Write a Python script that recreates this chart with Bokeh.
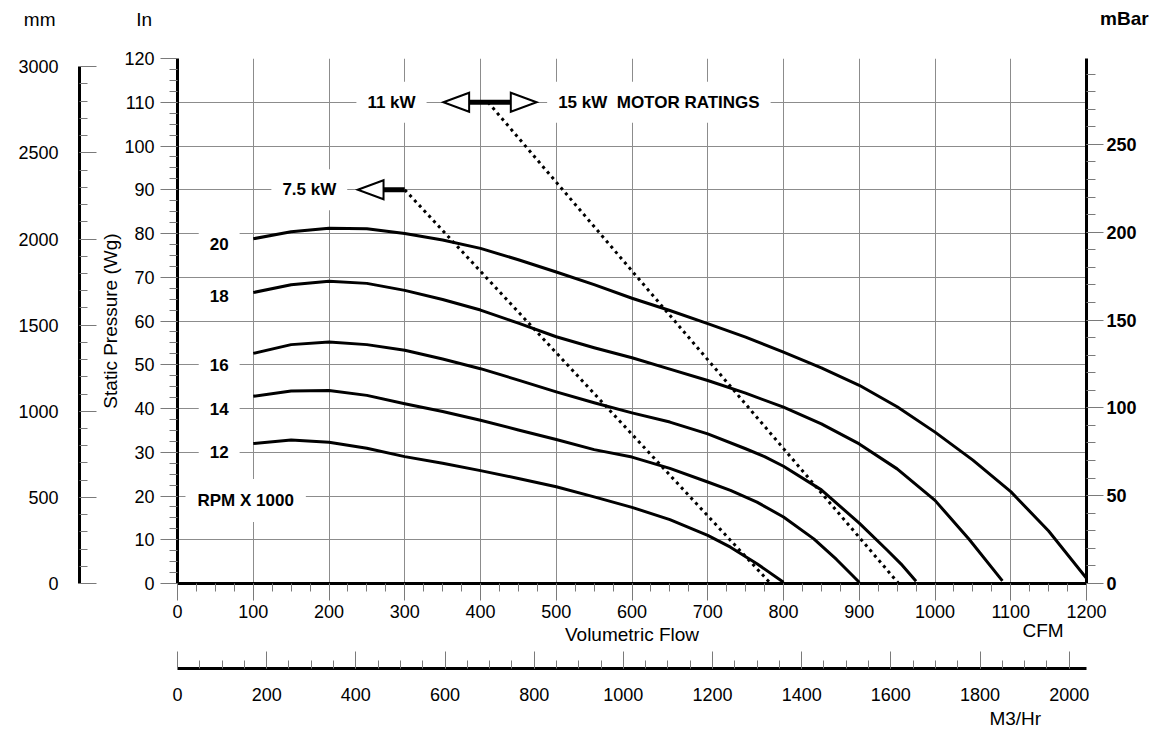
from bokeh.plotting import figure
from bokeh.models import Range1d, LinearAxis, SingleIntervalTicker, FixedTicker, Label
from bokeh.embed import file_html
from bokeh.resources import INLINE

FONT = "Liberation Sans"

# ---------------- data (CFM vs static pressure, in. w.g.) ----------------
rpm_labels = ["20", "18", "16", "14", "12"]

cfm_20 = [100, 150, 200, 250, 300, 350, 400, 450, 500, 550, 600, 650, 700, 750, 800, 850, 900, 950, 1000, 1050, 1100, 1150, 1200]
wg_20 = [78.8, 80.4, 81.2, 81.1, 80.0, 78.5, 76.6, 74.0, 71.2, 68.3, 65.2, 62.4, 59.4, 56.3, 52.9, 49.3, 45.3, 40.4, 34.6, 28.2, 21.0, 12.0, 1.2]

cfm_18 = [100, 150, 200, 250, 300, 350, 400, 450, 500, 550, 600, 650, 700, 750, 800, 850, 900, 950, 1000, 1045, 1089]
wg_18 = [66.5, 68.3, 69.1, 68.6, 67.0, 64.9, 62.5, 59.5, 56.4, 53.9, 51.6, 49.0, 46.4, 43.5, 40.3, 36.5, 31.9, 26.2, 19.0, 10.1, 0.6]

cfm_16 = [100, 150, 200, 250, 300, 350, 400, 450, 500, 550, 600, 650, 700, 750, 775, 800, 850, 900, 937, 955, 975]
wg_16 = [52.6, 54.6, 55.2, 54.6, 53.3, 51.3, 49.1, 46.5, 43.8, 41.3, 39.0, 36.9, 34.2, 30.8, 29.0, 26.8, 21.4, 13.8, 7.6, 4.5, 0.5]

cfm_14 = [100, 150, 200, 250, 300, 350, 400, 450, 500, 550, 600, 650, 700, 730, 765, 800, 840, 870, 900]
wg_14 = [42.8, 44.0, 44.1, 43.0, 41.1, 39.3, 37.3, 35.1, 32.9, 30.6, 28.9, 26.3, 23.2, 21.3, 18.6, 15.2, 10.2, 5.5, 0.3]

cfm_12 = [100, 150, 200, 250, 300, 350, 400, 450, 500, 550, 600, 650, 700, 730, 765, 800]
wg_12 = [32.0, 32.8, 32.3, 30.9, 29.0, 27.5, 25.8, 24.0, 22.1, 19.8, 17.4, 14.6, 11.0, 8.3, 4.5, 0.3]

curves_cfm = [cfm_20, cfm_18, cfm_16, cfm_14, cfm_12]
curves_wg = [wg_20, wg_18, wg_16, wg_14, wg_12]
rpm_label_wg = [77.7, 65.7, 50, 40, 30]
rpm_label_cfm = 55

# motor rating limit lines
rating_75_cfm = [300, 783]
rating_75_wg = [90, 0]
rating_11_15_cfm = [410, 952]
rating_11_15_wg = [110, 0]

# motor rating arrows: tip, base, level
arrow_tip = [238, 351, 474]
arrow_base = [272, 385, 440]
arrow_level = [90, 110, 110]
arrow_half = 2.17
bar_x0 = [272, 385]
bar_x1 = [300, 440]
bar_y = [90, 110]

# unit conversions for the secondary scales
IN_MAX = 120
CFM_MAX = 1200
MM_PER_IN = 25.4
MBAR_PER_IN = 1 / 0.401463
M3H_PER_CFM = 1.699011

GRID = "#8c8c8c"
TICK = "#7a7a7a"

p = figure(frame_width=909, frame_height=525,
           x_range=Range1d(0, CFM_MAX), y_range=Range1d(0, IN_MAX),
           output_backend="svg", toolbar_location=None,
           min_border_left=177, min_border_right=71, min_border_top=58, min_border_bottom=146)
p.outline_line_color = None
p.background_fill_color = "white"
p.border_fill_color = "white"

p.extra_y_ranges = {"mm": Range1d(0, IN_MAX * MM_PER_IN), "mbar": Range1d(0, IN_MAX * MBAR_PER_IN)}
p.extra_x_ranges = {"m3": Range1d(0, CFM_MAX * M3H_PER_CFM)}


def style_axis(ax, size="18px", bold=False):
    ax.axis_line_color = "black"
    ax.axis_line_width = 3
    ax.major_tick_line_color = TICK
    ax.minor_tick_line_color = TICK
    ax.major_tick_line_width = 1
    ax.minor_tick_line_width = 1
    ax.major_label_text_font = FONT
    ax.major_label_text_font_size = size
    ax.major_label_text_color = "black"
    ax.major_label_text_font_style = "bold" if bold else "normal"
    ax.axis_label_text_font = FONT
    ax.axis_label_text_font_style = "normal"
    ax.axis_label_text_font_size = "19px"
    ax.axis_label_text_color = "black"


# primary CFM axis
xa = p.xaxis[0]
xa.ticker = SingleIntervalTicker(interval=100, num_minor_ticks=4)
style_axis(xa)
xa.major_tick_out = 17
xa.major_tick_in = 0
xa.minor_tick_out = 8
xa.minor_tick_in = 0
xa.major_label_standoff = 4
xa.axis_label = "Volumetric Flow"
xa.axis_label_standoff = 3

# primary In axis
ya = p.yaxis[0]
ya.ticker = SingleIntervalTicker(interval=10, num_minor_ticks=4)
style_axis(ya)
ya.major_tick_out = 17
ya.major_tick_in = 0
ya.minor_tick_out = 8
ya.minor_tick_in = 0
ya.major_label_standoff = 6
ya.axis_label = "Static Pressure (Wg)"
ya.axis_label_standoff = 0

p.xgrid.grid_line_color = GRID
p.ygrid.grid_line_color = GRID
p.xgrid.grid_line_width = 1
p.ygrid.grid_line_width = 1

# blank spacer between the inch scale and the mm scale
spacer = LinearAxis(ticker=FixedTicker(ticks=[IN_MAX]), axis_line_color=None,
                    major_tick_line_color="white", major_tick_out=18, major_tick_in=0,
                    minor_tick_out=0, minor_tick_in=0, major_label_standoff=0,
                    major_label_text_font_size="0px", major_label_overrides={IN_MAX: ""})
p.add_layout(spacer, "left")

mm_axis = LinearAxis(y_range_name="mm", ticker=SingleIntervalTicker(interval=500, num_minor_ticks=5),
                     bounds=(0, 3000))
style_axis(mm_axis)
mm_axis.major_tick_out = 0
mm_axis.major_tick_in = 17
mm_axis.minor_tick_out = 0
mm_axis.minor_tick_in = 8
mm_axis.major_label_standoff = 21
p.add_layout(mm_axis, "left")

mbar_axis = LinearAxis(y_range_name="mbar", ticker=SingleIntervalTicker(interval=50, num_minor_ticks=5))
style_axis(mbar_axis, bold=True)
mbar_axis.major_tick_out = 17
mbar_axis.major_tick_in = 0
mbar_axis.minor_tick_out = 9
mbar_axis.minor_tick_in = 0
mbar_axis.major_label_standoff = 3
p.add_layout(mbar_axis, "right")


def make_label(x, y, text, size="17px", bold=True, pad=11, bg=True, align="center", baseline="middle"):
    kw = dict(x=x, y=y, text=text, text_font=FONT, text_font_size=size,
              text_font_style="bold" if bold else "normal", text_color="black",
              text_align=align, text_baseline=baseline)
    if bg:
        kw.update(background_fill_color="white", padding=pad)
    return Label(**kw)


# unit caption under the CFM scale (placed in the bottom panel so it is not clipped)
p.add_layout(make_label(1142.6, -10.7, "CFM", size="19px", bold=False, bg=False, baseline="alphabetic"), "below")

m3_axis = LinearAxis(x_range_name="m3", ticker=SingleIntervalTicker(interval=200, num_minor_ticks=4))
style_axis(m3_axis)
m3_axis.major_tick_out = 0
m3_axis.major_tick_in = 17
m3_axis.minor_tick_out = 0
m3_axis.minor_tick_in = 8
m3_axis.major_label_standoff = 19
p.add_layout(m3_axis, "below")

p.add_layout(make_label(1106, -30.9, "M3/Hr", size="19px", bold=False, bg=False, baseline="alphabetic"), "below")

# scale titles above the chart
p.add_layout(make_label(-182, 128.9, "mm", size="19px", bold=False, bg=False, baseline="alphabetic"), "above")
p.add_layout(make_label(1250, 129.1, "mBar", size="19px", bold=True, bg=False, baseline="alphabetic"), "above")
p.add_layout(make_label(-44, 128.9, "In", size="19px", bold=False, bg=False, baseline="alphabetic"), "right")

# fan curves
for xs, ys in zip(curves_cfm, curves_wg):
    p.line(xs, ys, line_color="black", line_width=3, line_join="round")

# motor rating dotted lines
p.line(rating_75_cfm, rating_75_wg, line_color="black", line_width=3, line_dash="3 4")
p.line(rating_11_15_cfm, rating_11_15_wg, line_color="black", line_width=3, line_dash="3 4")

# arrow shafts
p.segment(x0=bar_x0, y0=bar_y, x1=bar_x1, y1=bar_y, line_color="black", line_width=5)

# hollow arrow heads
tri_xs = [[t, b, b] for t, b in zip(arrow_tip, arrow_base)]
tri_ys = [[lv, lv + arrow_half, lv - arrow_half] for lv in arrow_level]
p.patches(tri_xs, tri_ys, fill_color="white", line_color="black", line_width=2, line_join="miter")

for lab, yv in zip(rpm_labels, rpm_label_wg):
    p.add_layout(make_label(rpm_label_cfm, yv, lab))

p.add_layout(make_label(90, 19, "RPM X 1000", pad=12))
p.add_layout(make_label(174, 90, "7.5 kW"))
p.add_layout(make_label(282.5, 110, "11 kW"))
p.add_layout(make_label(635.5, 110, "15 kW \u00a0MOTOR RATINGS"))

open("out.html", "w").write(file_html(p, INLINE))
